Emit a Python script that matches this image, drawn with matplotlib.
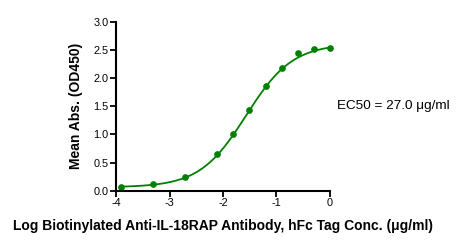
import numpy as np
import matplotlib
matplotlib.use("Agg")
import matplotlib.pyplot as plt

plt.rcParams['font.family'] = ['Liberation Sans', 'DejaVu Sans']

# Data (log concentration, mean absorbance)
log_conc = [-3.913, -3.311, -2.709, -2.107, -1.806, -1.505, -1.204, -0.903, -0.602, -0.301, 0.0]
mean_abs = [0.07, 0.11, 0.24, 0.65, 1.01, 1.43, 1.85, 2.18, 2.44, 2.51, 2.54]

# 4PL fit parameters
fit_bottom = 0.06
fit_top = 2.61
fit_log_ec50 = -1.568
fit_hill = 1.0

xticks = [-4, -3, -2, -1, 0]
yticks = [0.0, 0.5, 1.0, 1.5, 2.0, 2.5, 3.0]
green = '#008000'

fig = plt.figure(figsize=(4.66, 2.44), dpi=100)
ax = fig.add_axes([0.249, 0.2185, 0.459, 0.6925])

xc = np.linspace(min(log_conc), max(log_conc), 300)
yc = fit_bottom + (fit_top - fit_bottom) / (1 + 10 ** ((fit_log_ec50 - xc) * fit_hill))
ax.plot(xc, yc, color=green, lw=1.3, clip_on=False)
ax.plot(log_conc, mean_abs, 'o', color=green, ms=3.8, clip_on=False)

ax.set_xlim(-4, 0)
ax.set_ylim(0, 3.0)
ax.set_xticks(xticks)
ax.set_xticklabels([str(t) for t in xticks])
ax.set_yticks(yticks)
ax.set_yticklabels([f"{t:.1f}" for t in yticks])
for s in ['top', 'right']:
    ax.spines[s].set_visible(False)
for s in ['left', 'bottom']:
    ax.spines[s].set_linewidth(1.5)
ax.tick_params(direction='out', length=4, width=1.3, labelsize=7.8, pad=1.5)

ax.set_ylabel('Mean Abs. (OD450)', fontsize=10, fontweight='bold', labelpad=7)
ax.set_xlabel('Log Biotinylated Anti-IL-18RAP Antibody, hFc Tag Conc. (\u03bcg/ml)',
              fontsize=10, fontweight='bold', labelpad=8)

fig.text(0.723, 0.565, 'EC50 = 27.0 \u03bcg/ml', fontsize=9.7, va='center', ha='left')

fig.savefig('out.png', dpi=100)
